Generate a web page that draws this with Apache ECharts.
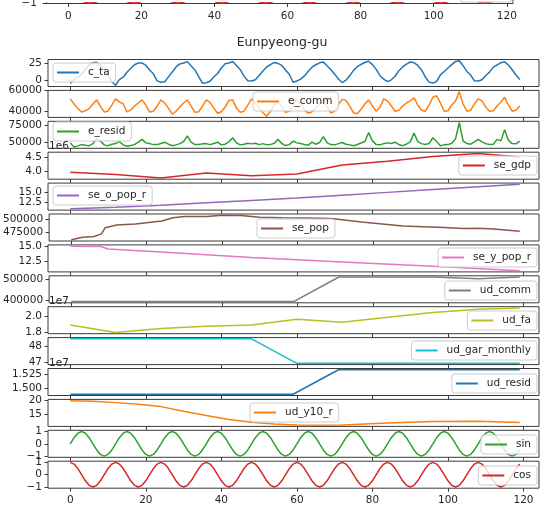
<!DOCTYPE html>
<html>
<head>
<meta charset="utf-8">
<script src="https://cdn.jsdelivr.net/npm/echarts@6/dist/echarts.min.js"></script>
<style>
  html, body { margin: 0; padding: 0; background: #ffffff; }
  #chart { width: 546px; height: 507px; }
</style>
</head>
<body>
<div id="chart"></div>
<script>
// ---- Eunpyeong-gu monthly indicators, Jan 2010 (index 0) to Dec 2019 (index 119) ----

// mean air temperature (°C), monthly
const cTa = [
  -4.5, 1.0, 4.3, 9.4, 16.4, 23.3, 26.0, 26.6, 22.0, 14.6, 7.0, -2.0,
  -7.2, 1.2, 4.6, 12.0, 17.5, 22.9, 25.4, 25.5, 22.1, 15.2, 9.6, -0.7,
  -2.8, -2.0, 5.1, 12.3, 19.7, 24.1, 25.4, 27.5, 21.0, 15.3, 5.5, -4.1,
  -3.4, -1.2, 5.1, 10.0, 18.1, 24.4, 25.5, 27.7, 21.8, 15.6, 6.2, -0.7,
  -0.9, 1.0, 7.3, 13.6, 19.6, 23.2, 26.3, 24.8, 21.9, 15.1, 8.6, -2.8,
  -0.9, 1.8, 6.5, 13.3, 19.4, 22.9, 25.7, 26.8, 21.5, 15.5, 9.1, 2.0,
  -3.2, 0.2, 7.0, 14.6, 20.0, 23.6, 26.2, 28.0, 23.1, 16.1, 6.8, 1.8,
  -1.8, 0.8, 6.0, 14.2, 19.7, 23.8, 26.9, 26.0, 21.9, 15.3, 5.0, -2.6,
  -4.0, -1.6, 8.1, 13.0, 18.2, 23.1, 27.8, 28.8, 21.5, 13.1, 7.8, -0.6,
  -0.9, 1.0, 7.1, 12.1, 19.4, 22.5, 25.9, 27.2, 22.6, 15.6, 7.9, 1.4
];

// commercial electricity use, monthly
const eComm = [
  52000, 47000, 42500, 39300, 40500, 42500, 47000, 51000, 44500, 39300, 40300, 46000,
  52000, 49000, 47200, 39300, 41000, 45000, 48000, 51000, 46000, 39300, 40000, 45000,
  51000, 48000, 43000, 37100, 40000, 44000, 48000, 51000, 45000, 39000, 39500, 45000,
  51000, 48500, 43000, 38000, 39500, 44000, 50500, 51000, 43000, 39000, 40000, 46000,
  52000, 47500, 42500, 38500, 35200, 40000, 46500, 50000, 44000, 39000, 40000, 46000,
  51500, 47000, 41000, 38000, 39500, 43000, 47500, 50500, 44000, 38500, 40000, 46500,
  51500, 50500, 45000, 38500, 37500, 42000, 47000, 51000, 45000, 40000, 44000, 52000,
  50000, 45000, 40000, 41000, 45000, 48000, 50000, 53000, 46000, 41000, 40000, 46000,
  53500, 55000, 48000, 40000, 40500, 46000, 50000, 59000, 47000, 40000, 41000, 47000,
  52000, 50000, 44000, 40000, 40500, 45000, 49000, 53500, 46000, 40000, 41000, 45000
];

// residential electricity use, monthly
const eResid = [
  48900, 42700, 44500, 46400, 45500, 44800, 48000, 55200, 51600, 46000, 44800, 47000,
  47900, 51000, 46000, 43900, 45000, 46400, 50000, 54200, 49000, 47900, 46400, 46400,
  48000, 50000, 47000, 44800, 46000, 47900, 51000, 59400, 50000, 46400, 46400, 47500,
  47900, 46400, 48000, 50000, 46000, 47000, 50500, 56700, 49000, 46000, 47000, 48500,
  47500, 48500, 46400, 47900, 46000, 46400, 48500, 54200, 48000, 45000, 46400, 51600,
  49000, 47900, 46500, 45500, 50000, 47000, 49500, 58300, 49000, 46400, 46000, 47900,
  49500, 47000, 46000, 44800, 46500, 48900, 51000, 64500, 52000, 46400, 46000, 47900,
  49000, 48000, 50000, 46500, 44800, 47000, 50500, 63600, 51000, 47900, 46500, 48000,
  56700, 51000, 44800, 46000, 46400, 48500, 55000, 79500, 52000, 47900, 47000, 50500,
  54200, 50500, 47900, 46500, 47000, 54200, 52000, 68700, 53000, 47900, 47500, 51600
];

// yearly / step indicators as [month index, value]
const seGdp = [[0, 3960000], [12, 3880000], [24, 3760000], [36, 3940000], [48, 3840000],
  [60, 3900000], [72, 4220000], [84, 4350000], [96, 4520000], [108, 4630000], [119, 4500000]];
const seOPopR = [[0, 10.9], [12, 11.3], [24, 11.8], [36, 12.4], [48, 13.0], [60, 13.6],
  [72, 14.3], [84, 15.0], [96, 15.7], [108, 16.4], [119, 17.0]];
const sePop = [[0, 460600], [3, 465500], [6, 467000], [8, 472000], [9, 484000], [12, 489000],
  [17, 491000], [24, 496700], [27, 503000], [30, 505500], [36, 505500], [40, 508000],
  [45, 507500], [50, 504000], [56, 503000], [62, 502500], [69, 501500], [77, 494700],
  [88, 487000], [99, 484500], [104, 482500], [108, 483000], [112, 481500], [116, 479000], [119, 477000]];
const seYPopR = [[0, 14.95], [8, 14.9], [10, 14.5], [24, 14.0], [48, 13.1], [72, 12.4],
  [96, 11.7], [119, 11.0]];
const udComm = [[0, 395000], [59, 395000], [71, 512500], [96, 512500], [108, 504500], [119, 512500]];
const udFa = [[0, 18940000], [12, 18000000], [24, 18510000], [36, 18770000], [48, 18940000],
  [60, 19660000], [72, 19280000], [84, 19900000], [96, 20500000], [108, 20890000], [119, 21060000]];
const udGarMonthly = [[0, 48.5], [48, 48.5], [60, 46.9], [119, 46.9]];
const udResid = [[0, 14890000], [59, 14890000], [71, 15335000], [119, 15335000]];
const udY10R = [[0, 19.9], [6, 19.7], [12, 19.2], [18, 18.6], [24, 17.8], [30, 16.2], [36, 14.7],
  [42, 13.3], [48, 12.3], [54, 11.7], [60, 11.4], [66, 11.3], [72, 11.4], [84, 12.1],
  [96, 12.6], [108, 12.7], [119, 12.2]];

// month-of-year encodings
const sinMonth = [
  0, 0.5, 0.866, 1, 0.866, 0.5, 0, -0.5, -0.866, -1, -0.866, -0.5,
  0, 0.5, 0.866, 1, 0.866, 0.5, 0, -0.5, -0.866, -1, -0.866, -0.5,
  0, 0.5, 0.866, 1, 0.866, 0.5, 0, -0.5, -0.866, -1, -0.866, -0.5,
  0, 0.5, 0.866, 1, 0.866, 0.5, 0, -0.5, -0.866, -1, -0.866, -0.5,
  0, 0.5, 0.866, 1, 0.866, 0.5, 0, -0.5, -0.866, -1, -0.866, -0.5,
  0, 0.5, 0.866, 1, 0.866, 0.5, 0, -0.5, -0.866, -1, -0.866, -0.5,
  0, 0.5, 0.866, 1, 0.866, 0.5, 0, -0.5, -0.866, -1, -0.866, -0.5,
  0, 0.5, 0.866, 1, 0.866, 0.5, 0, -0.5, -0.866, -1, -0.866, -0.5,
  0, 0.5, 0.866, 1, 0.866, 0.5, 0, -0.5, -0.866, -1, -0.866, -0.5,
  0, 0.5, 0.866, 1, 0.866, 0.5, 0, -0.5, -0.866, -1, -0.866, -0.5
];
const cosMonth = [
  1, 0.866, 0.5, 0, -0.5, -0.866, -1, -0.866, -0.5, 0, 0.5, 0.866,
  1, 0.866, 0.5, 0, -0.5, -0.866, -1, -0.866, -0.5, 0, 0.5, 0.866,
  1, 0.866, 0.5, 0, -0.5, -0.866, -1, -0.866, -0.5, 0, 0.5, 0.866,
  1, 0.866, 0.5, 0, -0.5, -0.866, -1, -0.866, -0.5, 0, 0.5, 0.866,
  1, 0.866, 0.5, 0, -0.5, -0.866, -1, -0.866, -0.5, 0, 0.5, 0.866,
  1, 0.866, 0.5, 0, -0.5, -0.866, -1, -0.866, -0.5, 0, 0.5, 0.866,
  1, 0.866, 0.5, 0, -0.5, -0.866, -1, -0.866, -0.5, 0, 0.5, 0.866,
  1, 0.866, 0.5, 0, -0.5, -0.866, -1, -0.866, -0.5, 0, 0.5, 0.866,
  1, 0.866, 0.5, 0, -0.5, -0.866, -1, -0.866, -0.5, 0, 0.5, 0.866,
  1, 0.866, 0.5, 0, -0.5, -0.866, -1, -0.866, -0.5, 0, 0.5, 0.866
];

// tick values
const xTicks = [0, 20, 40, 60, 80, 100, 120];
const cTaTicks = [0, 25];
const eCommTicks = [40000, 60000];
const eResidTicks = [50000, 75000];
const seGdpTicks = [4000000, 4500000];
const seOPopTicks = [12.5, 15];
const sePopTicks = [475000, 500000];
const seYPopTicks = [12.5, 15];
const udCommTicks = [400000, 500000];
const udFaTicks = [18000000, 20000000];
const udGarTicks = [47, 48];
const udResidTicks = [15000000, 15250000];
const udY10Ticks = [15, 20];
const unitTicks = [-1, 0, 1];

const title = 'Eunpyeong-gu';

// ---- layout / styling ----
const FONT = 'DejaVu Sans';
const TEXT = '#262626';
const SPINE = '#3a3a3a';
const PLOT_LEFT = 48, PLOT_WIDTH = 491;
const TOP0 = 59.5, STEP = 30.9, PANEL_H = 27;
const X_MIN = -5.9, X_MAX = 124.1;

const asPairs = arr => arr.map((v, i) => [i, v]);

const panels = [
  { name: 'c_ta', color: '#1f77b4', data: asPairs(cTa), ticks: cTaTicks, scale: 1, dec: 0, legend: { left: 53, top: 63 } },
  { name: 'e_comm', color: '#ff7f0e', data: asPairs(eComm), ticks: eCommTicks, scale: 1, dec: 0, legend: { left: 253, top: 92 } },
  { name: 'e_resid', color: '#2ca02c', data: asPairs(eResid), ticks: eResidTicks, scale: 1, dec: 0, legend: { left: 53, top: 122 } },
  { name: 'se_gdp', color: '#d62728', data: seGdp, ticks: seGdpTicks, scale: 1e6, dec: 1, offset: '1e6', legend: { right: 9, top: 156 } },
  { name: 'se_o_pop_r', color: '#9467bd', data: seOPopR, ticks: seOPopTicks, scale: 1, dec: 1, legend: { left: 53, top: 186 } },
  { name: 'se_pop', color: '#8c564b', data: sePop, ticks: sePopTicks, scale: 1, dec: 0, legend: { left: 257, top: 219 } },
  { name: 'se_y_pop_r', color: '#e377c2', data: seYPopR, ticks: seYPopTicks, scale: 1, dec: 1, legend: { right: 9, top: 248 } },
  { name: 'ud_comm', color: '#7f7f7f', data: udComm, ticks: udCommTicks, scale: 1, dec: 0, legend: { right: 9, top: 281 } },
  { name: 'ud_fa', color: '#bcbd22', data: udFa, ticks: udFaTicks, scale: 1e7, dec: 1, offset: '1e7', legend: { right: 9, top: 311 } },
  { name: 'ud_gar_monthly', color: '#17becf', data: udGarMonthly, ticks: udGarTicks, scale: 1, dec: 0, legend: { right: 9, top: 341 } },
  { name: 'ud_resid', color: '#1f77b4', data: udResid, ticks: udResidTicks, scale: 1e7, dec: 3, offset: '1e7', legend: { right: 9, top: 374 } },
  { name: 'ud_y10_r', color: '#ff7f0e', data: udY10R, ticks: udY10Ticks, scale: 1, dec: 0, legend: { left: 250, top: 403 } },
  { name: 'sin', color: '#2ca02c', data: asPairs(sinMonth), ticks: unitTicks, scale: 1, dec: 0, legend: { right: 9, top: 435 } },
  { name: 'cos', color: '#d62728', data: asPairs(cosMonth), ticks: unitTicks, scale: 1, dec: 0, legend: { right: 9, top: 466 } }
];

function paddedRange(pairs) {
  const ys = pairs.map(p => p[1]);
  const lo = Math.min(...ys), hi = Math.max(...ys);
  const m = (hi - lo) * 0.05;
  return { min: lo - m, max: hi + m };
}
function fmt(scale, dec) {
  return v => (v / scale).toFixed(dec).replace('-', '\u2212');
}

const labelStyle = { fontSize: 10.5, color: TEXT, fontFamily: FONT };
const tickStyle = { color: SPINE, width: 1 };
const legendBase = {
  orient: 'horizontal', icon: 'rect', itemWidth: 22, itemHeight: 2, padding: [4, 6, 4, 4],
  backgroundColor: 'rgba(255,255,255,0.8)', borderColor: '#cccccc', borderWidth: 1, borderRadius: 3,
  textStyle: { ...labelStyle, padding: [0, 0, 0, 4] }, selectedMode: false, z: 10
};

const grid = [], xAxis = [], yAxis = [], series = [], legend = [], graphic = [];

graphic.push({
  type: 'text', x: 282, y: 43, z: 20,
  style: { text: title, align: 'center', verticalAlign: 'middle', fontSize: 12.5, fontFamily: FONT, fill: TEXT }
});

// a left value axis carrying a given set of ticks; tightly spaced ticks are
// split over two overlaid axes so that neither label gets dropped
function valueAxis(gridIndex, range, ticks, formatter) {
  return {
    type: 'value', gridIndex, min: range.min, max: range.max, position: 'left', offset: 0,
    axisLine: { show: false, onZero: false }, splitLine: { show: false },
    axisTick: { show: true, length: 3.5, customValues: ticks, lineStyle: tickStyle },
    axisLabel: { customValues: ticks, margin: 6, hideOverlap: false, formatter, ...labelStyle }
  };
}

panels.forEach((p, k) => {
  const top = TOP0 + STEP * k;
  const last = k === panels.length - 1;
  const r = paddedRange(p.data);
  grid.push({ left: PLOT_LEFT, width: PLOT_WIDTH, top: top, height: PANEL_H,
    show: true, borderColor: SPINE, borderWidth: 1, backgroundColor: 'transparent' });
  xAxis.push({
    type: 'value', gridIndex: k, min: X_MIN, max: X_MAX, position: 'bottom',
    axisLine: { show: false, onZero: false }, splitLine: { show: false },
    axisTick: { show: true, length: 3.5, customValues: xTicks, lineStyle: tickStyle },
    axisLabel: { show: last, customValues: xTicks, margin: 7, hideOverlap: false, ...labelStyle }
  });
  const f = fmt(p.scale, p.dec);
  const mainIndex = yAxis.length;
  yAxis.push(valueAxis(k, r, p.ticks.filter((_, j) => j % 2 === 0), f));
  yAxis.push(valueAxis(k, r, p.ticks.filter((_, j) => j % 2 === 1), f));
  series.push({
    name: p.name, type: 'line', xAxisIndex: k, yAxisIndex: mainIndex, data: p.data,
    showSymbol: false, symbol: 'none', animation: false, z: 2,
    lineStyle: { width: 1.5, color: p.color }, itemStyle: { color: p.color }
  });
  legend.push({ ...legendBase, data: [p.name], ...p.legend });
  if (p.offset) {
    // scale factor printed above the axis, as in a scientific offset
    graphic.push({
      type: 'text', x: PLOT_LEFT + 1, y: top, z: 20,
      style: { text: p.offset, align: 'left', verticalAlign: 'bottom', fontSize: 10.5, fontFamily: FONT, fill: TEXT }
    });
  }
});

// bottom edge of the preceding district's cos panel, cut off by the top of the page
const prev = panels.length;
const PREV_BOTTOM = 2.7;
grid.push({ left: 46, width: 467, top: 0, height: PREV_BOTTOM, show: false });
xAxis.push({
  type: 'value', gridIndex: prev, min: -6.1, max: 121.7, position: 'bottom',
  axisLine: { show: true, onZero: false, lineStyle: { color: SPINE, width: 1 } }, splitLine: { show: false },
  axisTick: { show: true, length: 3.5, customValues: xTicks, lineStyle: tickStyle },
  axisLabel: { customValues: xTicks, margin: 7, hideOverlap: false, ...labelStyle }
});
const prevY = yAxis.length;
yAxis.push({
  type: 'value', gridIndex: prev, min: -1.1, max: -1.1 + 2.2 * PREV_BOTTOM / PANEL_H, position: 'left',
  axisLine: { show: true, onZero: false, lineStyle: { color: SPINE, width: 1 } }, splitLine: { show: false },
  axisTick: { show: true, length: 3.5, customValues: [-1], lineStyle: tickStyle },
  axisLabel: { customValues: [-1], margin: 9, hideOverlap: false, formatter: fmt(1, 0), ...labelStyle }
});
series.push({
  name: 'cos', type: 'line', xAxisIndex: prev, yAxisIndex: prevY, data: asPairs(cosMonth),
  showSymbol: false, symbol: 'none', animation: false, clip: true,
  lineStyle: { width: 1.5, color: '#d62728' }, itemStyle: { color: '#d62728' }
});
graphic.push({
  type: 'rect', z: 10,
  shape: { x: 460, y: -17, width: 52, height: 19, r: 3 },
  style: { fill: 'rgba(255,255,255,0.8)', stroke: '#cccccc', lineWidth: 1 }
});
graphic.push({
  type: 'line', z: 10,
  shape: { x1: 513, y1: 0, x2: 513, y2: PREV_BOTTOM },
  style: { stroke: SPINE, lineWidth: 1 }
});

const chart = echarts.init(document.getElementById('chart'), null, { renderer: 'canvas' });
chart.setOption({
  backgroundColor: '#ffffff',
  animation: false,
  textStyle: { fontFamily: FONT },
  graphic, grid, xAxis, yAxis, series, legend
});
</script>
</body>
</html>
